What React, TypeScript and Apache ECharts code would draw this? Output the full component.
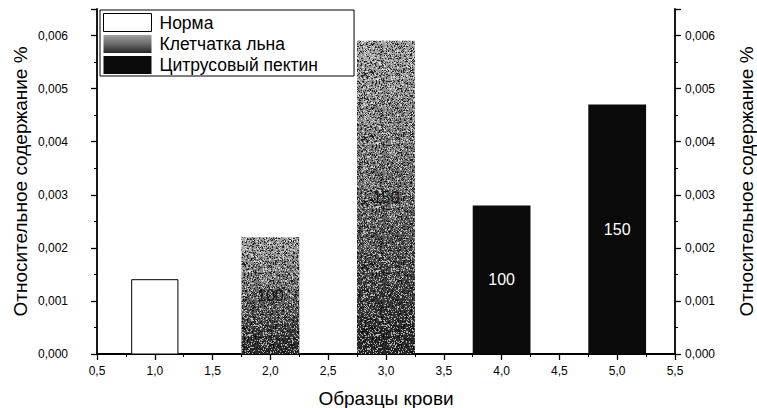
import React, { useEffect, useRef } from "react";
import * as echarts from "echarts";

const seriesNames = ["Норма", "Клетчатка льна", "Цитрусовый пектин"];
const normaSamples = [1];
const normaValues = [0.0014];
const flaxSamples = [2, 3];
const flaxValues = [0.0022, 0.0059];
const flaxLabels = ["100", "150"];
const pectinSamples = [4, 5];
const pectinValues = [0.0028, 0.0047];
const pectinLabels = ["100", "150"];
const xAxisTitle = "Образцы крови";
const yAxisTitle = "Относительное содержание %";

const NORMA_WIDTH = 0.4;
const BAR_WIDTH = 0.5;
const FONT = "'Liberation Sans', Arial, sans-serif";

const flaxFill = new echarts.graphic.LinearGradient(0, 0, 0, 1, [
  { offset: 0, color: "#a0a0a0" },
  { offset: 0.5, color: "#6a6a6a" },
  { offset: 1, color: "#282828" },
]);

// deterministic grain texture (styling only)
function makeGrain(): string | null {
  if (typeof document === "undefined") return null;
  const size = 64;
  const c = document.createElement("canvas");
  c.width = size;
  c.height = size;
  const ctx = c.getContext("2d");
  if (!ctx) return null;
  const img = ctx.createImageData(size, size);
  for (let y = 0; y < size; y++) {
    for (let x = 0; x < size; x++) {
      const s = Math.sin(x * 12.9898 + y * 78.233) * 43758.5453;
      const h = s - Math.floor(s);
      const i = (y * size + x) * 4;
      if (h < 0.2) {
        img.data[i] = 255; img.data[i + 1] = 255; img.data[i + 2] = 255; img.data[i + 3] = 160;
      } else if (h > 0.78) {
        img.data[i] = 0; img.data[i + 1] = 0; img.data[i + 2] = 0; img.data[i + 3] = 190;
      } else {
        img.data[i + 3] = 0;
      }
    }
  }
  ctx.putImageData(img, 0, 0);
  return c.toDataURL();
}

function makeRender(width: number, fill: any, stroke: string, labelColor: string, grain: string | null) {
  return (params: any, api: any) => {
    const x = api.value(0);
    const y = api.value(1);
    const label = api.value(2);
    const p0 = api.coord([x - width / 2, y]);
    const p1 = api.coord([x + width / 2, 0]);
    const shape = { x: p0[0], y: p0[1], width: p1[0] - p0[0], height: p1[1] - p0[1] };
    const children: any[] = [
      { type: "rect", shape, style: { fill, stroke, lineWidth: stroke === "none" ? 0 : 1 } },
    ];
    if (grain) {
      children.push({
        type: "rect",
        shape,
        style: { fill: { image: grain, repeat: "repeat" } as any, stroke: "none" },
      });
    }
    if (label !== undefined && label !== null && label !== "" && label !== "-") {
      children.push({
        type: "text",
        style: {
          text: String(label),
          x: (p0[0] + p1[0]) / 2,
          y: (p0[1] + p1[1]) / 2,
          align: "center",
          verticalAlign: "middle",
          fill: labelColor,
          font: `16px ${FONT}`,
        },
      });
    }
    return { type: "group", children };
  };
}

const fmtX = (v: number) => v.toFixed(1).replace(".", ",");
const fmtY = (v: number) => {
  const k = v * 1000;
  if (Math.abs(k - Math.round(k)) > 1e-6) return "";
  return v.toFixed(3).replace(".", ",");
};

export default function App() {
  const ref = useRef<HTMLDivElement>(null);
  useEffect(() => {
    const chart = echarts.init(ref.current!, null, { renderer: "svg" });
    const grain = makeGrain();
    const axisCommon = {
      type: "value" as const,
      min: 0,
      max: 0.0065,
      interval: 0.001,
      splitLine: { show: false },
      axisLine: { show: true, lineStyle: { color: "#000", width: 1.8 } },
      axisTick: { show: true, length: 6, lineStyle: { color: "#000", width: 1.3 } },
      minorTick: { show: true, splitNumber: 2, length: 3, lineStyle: { color: "#000", width: 1 } },
      minorSplitLine: { show: false },
      nameLocation: "middle" as const,
      nameRotate: 90,
      nameMoveOverlap: false,
      nameTextStyle: { fontFamily: FONT, fontSize: 19, color: "#000", verticalAlign: "middle" },
    };
    chart.setOption({
      animation: false,
      backgroundColor: "#fff",
      grid: { left: 97, right: 82, top: 9, bottom: 54, outerBoundsMode: "none", containLabel: false },
      legend: {
        orient: "vertical",
        left: 100,
        top: 10,
        itemWidth: 48,
        itemHeight: 18,
        itemGap: 3,
        padding: [3, 36, 2, 3],
        borderColor: "#000",
        borderWidth: 1,
        icon: "rect",
        textStyle: { fontFamily: FONT, fontSize: 17.5, color: "#000", padding: [0, 0, 0, 3] },
        data: [
          { name: seriesNames[0], itemStyle: { color: "#fff", borderColor: "#000", borderWidth: 1 } },
          { name: seriesNames[1], itemStyle: { color: flaxFill, borderWidth: 0 } },
          { name: seriesNames[2], itemStyle: { color: "#0a0a0a", borderWidth: 0 } },
        ],
      },
      xAxis: {
        type: "value",
        min: 0.5,
        max: 5.5,
        interval: 0.5,
        name: xAxisTitle,
        nameLocation: "middle",
        nameGap: 35,
        nameMoveOverlap: false,
        nameTextStyle: { fontFamily: FONT, fontSize: 19, color: "#000" },
        splitLine: { show: false },
        axisLine: { show: true, onZero: false, lineStyle: { color: "#000", width: 1.8 } },
        axisTick: { show: true, length: 6, lineStyle: { color: "#000", width: 1.3 } },
        minorTick: { show: true, splitNumber: 2, length: 3, lineStyle: { color: "#000", width: 1 } },
        axisLabel: { formatter: fmtX, fontFamily: FONT, fontSize: 12, color: "#000", margin: 11 },
      },
      yAxis: [
        {
          ...axisCommon,
          position: "left",
          name: yAxisTitle,
          nameGap: 77,
          axisLabel: { formatter: fmtY, fontFamily: FONT, fontSize: 12, color: "#000", margin: 29 },
        },
        {
          ...axisCommon,
          position: "right",
          name: yAxisTitle,
          nameGap: 71,
          axisLabel: { formatter: fmtY, fontFamily: FONT, fontSize: 12, color: "#000", margin: 10 },
        },
      ],
      series: [
        {
          type: "custom",
          name: seriesNames[0],
          itemStyle: { color: "#fff", borderColor: "#000" },
          encode: { x: 0, y: 1 },
          data: normaSamples.map((s, i) => [s, normaValues[i], ""]),
          renderItem: makeRender(NORMA_WIDTH, "#fff", "#000", "#000", null),
        },
        {
          type: "custom",
          name: seriesNames[1],
          itemStyle: { color: flaxFill },
          encode: { x: 0, y: 1 },
          data: flaxSamples.map((s, i) => [s, flaxValues[i], flaxLabels[i]]),
          renderItem: makeRender(BAR_WIDTH, flaxFill, "none", "#111", grain),
        },
        {
          type: "custom",
          name: seriesNames[2],
          itemStyle: { color: "#0a0a0a" },
          encode: { x: 0, y: 1 },
          data: pectinSamples.map((s, i) => [s, pectinValues[i], pectinLabels[i]]),
          renderItem: makeRender(BAR_WIDTH, "#0a0a0a", "none", "#fff", null),
        },
      ],
    });
    return () => chart.dispose();
  }, []);
  return (
    <div
      ref={ref}
      style={{ position: "fixed", left: 0, top: 0, width: 757, height: 408 }}
    />
  );
}
